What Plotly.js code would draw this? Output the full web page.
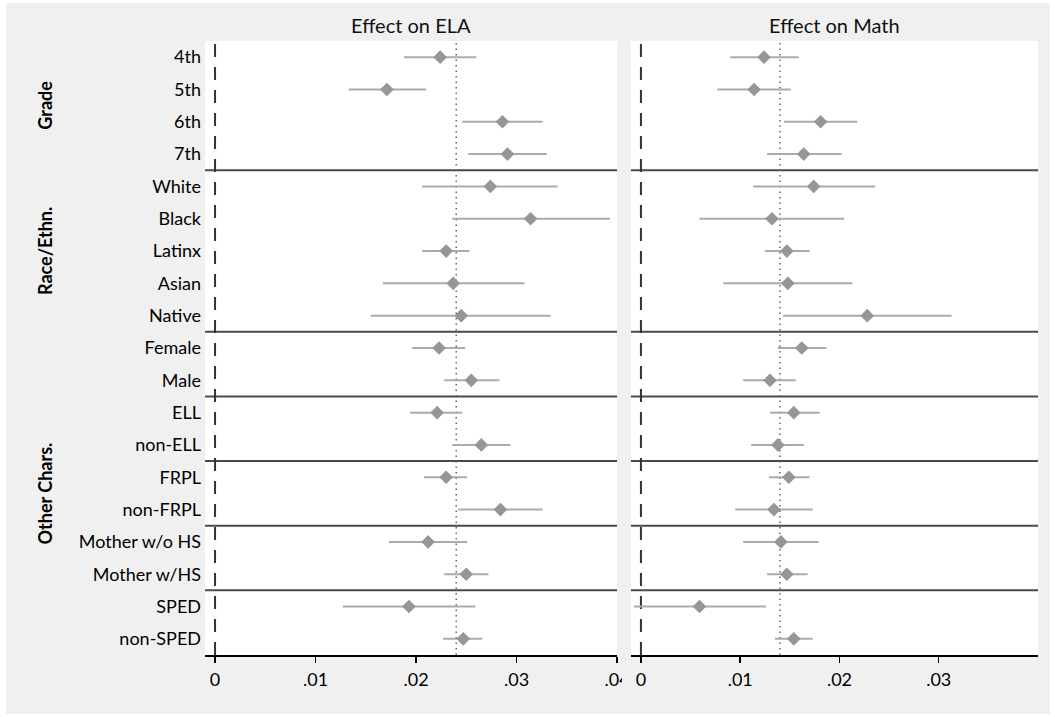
<!DOCTYPE html>
<html>
<head>
<meta charset="utf-8">
<script src="https://cdn.plot.ly/plotly-3.0.1.min.js"></script>
<style>html,body{margin:0;padding:0;background:#fff;}#chart{width:1055px;height:717px;}</style>
</head>
<body>
<div id="chart"></div>
<script>
const categories = ['4th','5th','6th','7th','White','Black','Latinx','Asian','Native','Female','Male','ELL','non-ELL','FRPL','non-FRPL','Mother w/o HS','Mother w/HS','SPED','non-SPED'];

const elaEst = [0.0224,0.0171,0.0286,0.0291,0.0274,0.0314,0.0230,0.0237,0.0245,0.0223,0.0255,0.0221,0.0265,0.0230,0.0284,0.0212,0.0250,0.0193,0.0247];
const elaLo  = [0.0188,0.0133,0.0246,0.0252,0.0206,0.0236,0.0206,0.0167,0.0155,0.0196,0.0228,0.0194,0.0236,0.0208,0.0242,0.0173,0.0228,0.0127,0.0227];
const elaHi  = [0.0260,0.0210,0.0326,0.0330,0.0341,0.0393,0.0253,0.0308,0.0334,0.0249,0.0283,0.0246,0.0294,0.0251,0.0326,0.0251,0.0272,0.0259,0.0266];

const mathEst = [0.0124,0.0114,0.0181,0.0164,0.0174,0.0132,0.0147,0.0148,0.0228,0.0162,0.0130,0.0154,0.0138,0.0149,0.0134,0.0141,0.0147,0.0059,0.0154];
const mathLo  = [0.0090,0.0077,0.0144,0.0127,0.0113,0.0059,0.0125,0.0083,0.0143,0.0138,0.0103,0.0130,0.0111,0.0129,0.0095,0.0103,0.0127,-0.0007,0.0135];
const mathHi  = [0.0159,0.0151,0.0218,0.0202,0.0236,0.0205,0.0170,0.0213,0.0313,0.0187,0.0156,0.0180,0.0164,0.0170,0.0173,0.0179,0.0168,0.0126,0.0173];

const elaRef = 0.024;
const mathRef = 0.014;

const panelTitles = ['Effect on ELA', 'Effect on Math'];
const groupNames = ['Grade', 'Race/Ethn.', 'Other Chars.'];
const groupFirst = [1, 5, 10];
const groupLast = [4, 9, 19];
const separatorsAfter = [4, 9, 11, 13, 15, 17];

const xTickVals = [0, 0.01, 0.02, 0.03, 0.04];
const xTickText = ['0', '.01', '.02', '.03', '.04'];

const rows = categories.map((c, i) => i + 1);

// Geometry (pixels)
const W = 1055, H = 717;
const L = 205, R = 1038, T = 41, B = 655;
const pw = R - L, ph = B - T;
const px = v => (v - L) / pw;
const py = v => (B - v) / ph;

const FONT = 'Lato, "Open Sans", sans-serif';
const markerColor = '#969696';
const ciColor = '#ababab';

function trace(est, lo, hi, xa, ya) {
  return {
    type: 'scatter', mode: 'markers',
    x: est, y: rows, xaxis: xa, yaxis: ya,
    marker: {symbol: 'diamond', size: 10.5, color: markerColor, line: {width: 0}},
    error_x: {
      type: 'data', symmetric: false,
      array: hi.map((h, i) => h - est[i]),
      arrayminus: lo.map((l, i) => est[i] - l),
      color: ciColor, thickness: 2, width: 0
    },
    hoverinfo: 'x+y', showlegend: false
  };
}

const data = [
  trace(elaEst, elaLo, elaHi, 'x', 'y'),
  trace(mathEst, mathLo, mathHi, 'x2', 'y2')
];

const shapes = [];
// outer gray frame
shapes.push({type: 'rect', xref: 'paper', yref: 'paper', layer: 'below',
  x0: px(6), x1: px(1050), y0: py(714), y1: py(3),
  fillcolor: '#f0f0f0', line: {width: 0}});
// white plot areas
[['x', 'y'], ['x2', 'y2']].forEach(([xa, ya]) => {
  shapes.push({type: 'rect', xref: xa + ' domain', yref: ya + ' domain', layer: 'below',
    x0: 0, x1: 1, y0: 0, y1: 1, fillcolor: '#ffffff', line: {width: 0}});
});
// separators
[['x', 'y'], ['x2', 'y2']].forEach(([xa, ya]) => {
  separatorsAfter.forEach(s => {
    shapes.push({type: 'line', xref: xa + ' domain', yref: ya, layer: 'below',
      x0: 0, x1: 1, y0: s + 0.5, y1: s + 0.5, line: {color: '#4a4a4a', width: 2}});
  });
});
// zero lines and reference lines
[['x', 'y', elaRef], ['x2', 'y2', mathRef]].forEach(([xa, ya, ref]) => {
  shapes.push({type: 'line', xref: xa, yref: ya + ' domain', layer: 'below',
    x0: 0, x1: 0, y0: 0, y1: 1, line: {color: '#333333', width: 2, dash: '13px,10px'}});
  shapes.push({type: 'line', xref: xa, yref: ya + ' domain', layer: 'below',
    x0: ref, x1: ref, y0: 0, y1: 1, line: {color: '#666666', width: 1.5, dash: '1.5px,4px'}});
});
// cover for clipped ".04" label
shapes.push({type: 'rect', xref: 'paper', yref: 'paper', layer: 'above',
  x0: px(622), x1: px(631), y0: py(705), y1: py(657),
  fillcolor: '#f0f0f0', line: {width: 0}});

const annotations = [];
annotations.push({text: panelTitles[0], xref: 'paper', yref: 'paper',
  x: px((205 + 617) / 2), y: py(25), xanchor: 'center', yanchor: 'middle',
  showarrow: false, font: {family: FONT, size: 20, color: '#111'}});
annotations.push({text: panelTitles[1], xref: 'paper', yref: 'paper',
  x: px((631 + 1038) / 2), y: py(25), xanchor: 'center', yanchor: 'middle',
  showarrow: false, font: {family: FONT, size: 20, color: '#111'}});
groupNames.forEach((g, i) => {
  annotations.push({text: '<b>' + g + '</b>', xref: 'paper', yref: 'y',
    x: px(45), y: (groupFirst[i] + groupLast[i]) / 2, xanchor: 'center', yanchor: 'middle',
    textangle: -90, showarrow: false, font: {family: FONT, size: 18, color: '#000'}});
});

const xaxisBase = {
  range: [-0.001, 0.04], showgrid: false, zeroline: false,
  showline: true, linecolor: '#000', linewidth: 1.5,
  ticks: 'outside', ticklen: 6, tickwidth: 1.5, tickcolor: '#000',
  tickfont: {family: FONT, size: 18, color: '#000'},
  ticklabelstandoff: 2, fixedrange: true
};
const yaxisBase = {
  range: [19.5, 0.5], showgrid: false, zeroline: false, showline: false,
  tickvals: rows, ticktext: categories, ticks: '',
  tickfont: {family: FONT, size: 18, color: '#000'}, fixedrange: true
};

const layout = {
  width: W, height: H,
  margin: {l: L, r: W - R, t: T, b: H - B, pad: 0},
  paper_bgcolor: '#ffffff', plot_bgcolor: 'rgba(0,0,0,0)',
  font: {family: FONT, size: 18, color: '#000'},
  showlegend: false,
  xaxis: Object.assign({}, xaxisBase, {domain: [0, px(617)], anchor: 'y',
    tickvals: xTickVals, ticktext: xTickText}),
  xaxis2: Object.assign({}, xaxisBase, {domain: [px(631), 1], anchor: 'y2',
    tickvals: xTickVals.slice(0, 4), ticktext: xTickText.slice(0, 4)}),
  yaxis: Object.assign({}, yaxisBase, {domain: [0, 1], anchor: 'x', ticklabelstandoff: 3}),
  yaxis2: Object.assign({}, yaxisBase, {domain: [0, 1], anchor: 'x2', showticklabels: false}),
  shapes: shapes,
  annotations: annotations
};

Plotly.newPlot('chart', data, layout, {displayModeBar: false, staticPlot: true});
</script>
</body>
</html>
